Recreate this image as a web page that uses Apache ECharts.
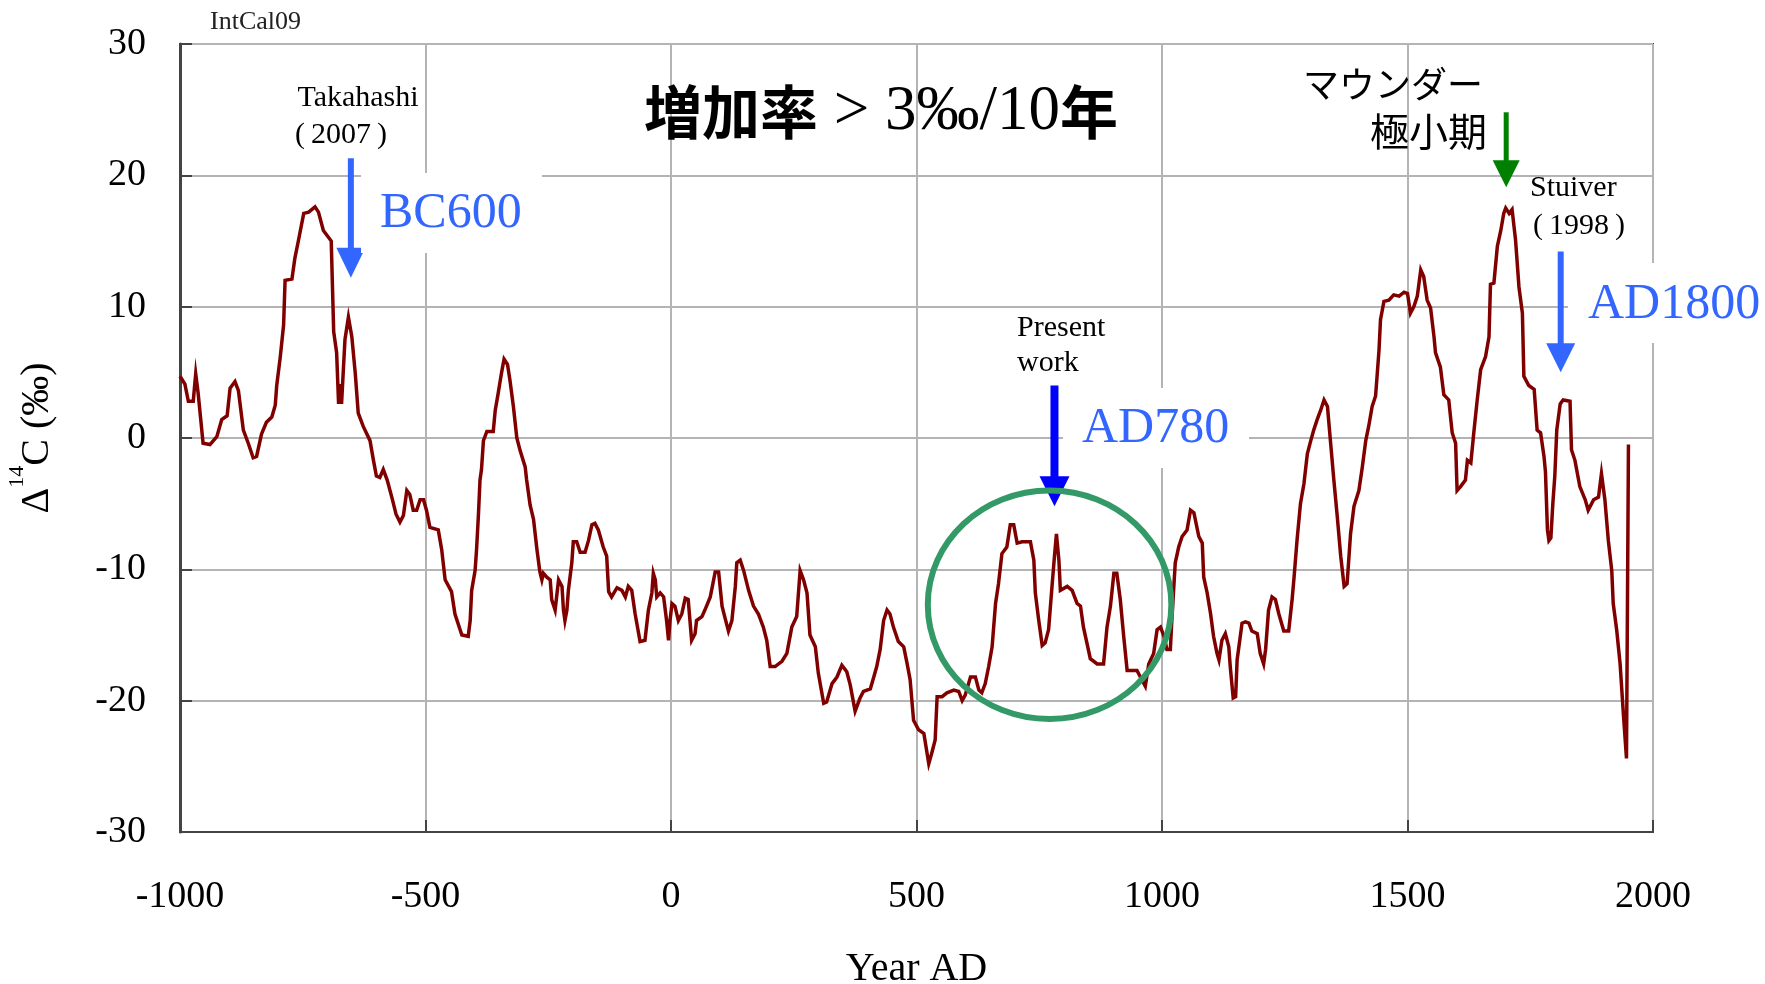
<!DOCTYPE html>
<html>
<head>
<meta charset="utf-8">
<title>Δ14C IntCal09</title>
<script src="https://cdn.jsdelivr.net/npm/echarts@6/dist/echarts.min.js"></script>
<style>
  html, body { margin: 0; padding: 0; background: #ffffff; }
  #main { width: 1765px; height: 984px; }
</style>
</head>
<body>
<div id="main"></div>
<script>
// Calendar year (AD, negative = BC) of each IntCal09 reading
const years = [
  -1000, -990, -983, -973, -968, -963, -953, -939, -925, -915, -904, -898, -888, -881, -871, -861,
  -851, -844, -834, -824, -813, -806, -803, -796, -789, -786, -772, -766, -759, -748, -738, -725,
  -718, -708, -692, -687, -681, -677, -673, -671, -664, -657, -650, -643, -637, -627, -613, -606,
  -600, -593, -586, -578, -568, -560, -552, -545, -538, -532, -525, -518, -511, -504, -498, -491,
  -474, -467, -460, -447, -440, -426, -413, -409, -406, -399, -396, -392, -389, -386, -382, -375,
  -362, -358, -352, -345, -340, -333, -328, -321, -314, -307, -297, -294, -287, -280, -273, -267,
  -263, -260, -253, -246, -243, -236, -229, -222, -219, -216, -212, -209, -202, -199, -192, -185,
  -175, -168, -161, -155, -148, -138, -131, -127, -121, -110, -100, -93, -87, -80, -73, -63,
  -53, -46, -39, -36, -32, -29, -22, -15, -9, -5, -2, 2, 8, 15, 22, 29,
  35, 42, 49, 52, 63, 69, 80, 90, 97, 104, 110, 117, 124, 131, 134, 141,
  148, 158, 168, 178, 188, 195, 202, 212, 226, 236, 246, 256, 263, 270, 277, 283,
  294, 300, 311, 317, 328, 338, 348, 358, 365, 375, 385, 392, 406, 413, 419, 426,
  433, 440, 446, 453, 463, 474, 481, 487, 494, 504, 515, 525, 531, 538, 542, 552,
  562, 576, 586, 593, 599, 610, 620, 627, 633, 640, 647, 654, 661, 667, 674, 684,
  691, 698, 705, 715, 732, 739, 742, 749, 756, 762, 769, 776, 781, 785, 790, 793,
  807, 817, 827, 834, 840, 847, 854, 868, 881, 888, 895, 902, 908, 915, 922, 929,
  939, 949, 956, 966, 973, 983, 990, 997, 1004, 1010, 1017, 1020, 1027, 1034, 1041, 1051,
  1058, 1065, 1075, 1082, 1085, 1092, 1099, 1105, 1112, 1116, 1122, 1129, 1136, 1139, 1145, 1150,
  1153, 1163, 1170, 1177, 1183, 1194, 1200, 1207, 1211, 1217, 1224, 1231, 1238, 1248, 1258, 1265,
  1269, 1275, 1282, 1289, 1296, 1303, 1309, 1316, 1323, 1330, 1337, 1343, 1350, 1357, 1364, 1371,
  1377, 1384, 1391, 1401, 1408, 1415, 1421, 1428, 1435, 1438, 1442, 1445, 1452, 1462, 1472, 1483,
  1493, 1500, 1506, 1513, 1520, 1527, 1533, 1540, 1547, 1554, 1557, 1567, 1574, 1584, 1591, 1598,
  1601, 1608, 1618, 1622, 1629, 1635, 1642, 1649, 1659, 1666, 1669, 1676, 1683, 1690, 1696, 1700,
  1707, 1713, 1720, 1727, 1734, 1737, 1747, 1758, 1764, 1771, 1778, 1781, 1785, 1788, 1792, 1796,
  1800, 1804, 1811, 1817, 1831, 1834, 1841, 1851, 1862, 1868, 1879, 1889, 1895, 1902, 1909, 1916,
  1919, 1926, 1933, 1940, 1946, 1950, 1950
];

// Δ14C in per mil for each year above
const delta14C = [
  4.7, 4.1, 2.8, 2.8, 4.9, 3.4, -0.4, -0.5, 0.1, 1.4, 1.7, 3.8, 4.3, 3.6, 0.6, -0.4,
  -1.5, -1.4, 0.3, 1.2, 1.6, 2.5, 4.0, 6.1, 8.6, 12.0, 12.1, 13.7, 15.0, 17.1, 17.2, 17.6,
  17.2, 15.8, 15.0, 8.1, 6.5, 2.6, 4.1, 2.6, 7.5, 9.2, 7.7, 4.9, 1.9, 0.9, -0.2, -1.7,
  -2.9, -3.0, -2.4, -3.2, -4.6, -5.8, -6.4, -5.9, -4.0, -4.3, -5.5, -5.5, -4.7, -4.7, -5.5, -6.8,
  -7.0, -8.5, -10.8, -11.7, -13.4, -15.0, -15.1, -13.9, -11.6, -10.1, -8.5, -5.7, -3.2, -2.4, -0.2, 0.5,
  0.5, 2.1, 3.4, 5.0, 6.0, 5.6, 4.4, 2.4, 0.0, -1.0, -2.2, -3.2, -5.1, -6.2, -8.5, -10.2,
  -10.8, -10.3, -10.6, -10.8, -12.3, -13.1, -10.8, -11.3, -13.1, -13.9, -13.1, -11.6, -9.5, -7.9, -7.9, -8.7,
  -8.7, -7.8, -6.6, -6.5, -7.0, -8.3, -9.0, -11.7, -12.1, -11.4, -11.6, -12.1, -11.3, -11.6, -13.4, -15.5,
  -15.4, -13.1, -11.8, -10.3, -10.8, -12.1, -11.8, -12.1, -13.9, -15.4, -13.9, -12.6, -12.8, -13.9, -13.4, -12.2,
  -12.3, -15.4, -14.9, -13.9, -13.6, -13.1, -12.1, -10.2, -10.2, -12.8, -13.7, -14.7, -13.9, -11.3, -9.5, -9.3,
  -10.1, -11.6, -12.8, -13.4, -14.4, -15.4, -17.4, -17.4, -17.0, -16.4, -14.4, -13.6, -10.1, -10.8, -11.8, -15.0,
  -15.9, -17.9, -20.2, -20.1, -18.7, -18.2, -17.3, -17.8, -18.8, -20.8, -19.8, -19.3, -19.1, -18.2, -17.4, -16.1,
  -13.9, -13.1, -13.4, -14.4, -15.5, -15.9, -17.2, -18.4, -21.5, -22.2, -22.5, -24.8, -24.0, -23.0, -19.7, -19.7,
  -19.4, -19.2, -19.3, -20.0, -19.6, -18.2, -18.2, -19.2, -19.4, -18.7, -17.4, -15.9, -12.6, -11.1, -8.8, -8.3,
  -6.6, -6.6, -8.0, -7.9, -7.9, -9.3, -11.8, -13.9, -15.8, -15.6, -14.6, -11.3, -9.0, -7.3, -9.3, -11.6,
  -11.3, -11.6, -12.6, -12.8, -14.4, -15.6, -16.8, -17.2, -17.2, -14.4, -12.8, -10.3, -10.3, -12.3, -15.1, -17.7,
  -17.7, -17.7, -18.2, -18.9, -17.2, -16.4, -14.6, -14.4, -15.1, -16.1, -16.1, -13.9, -9.5, -8.3, -7.5, -7.0,
  -5.5, -5.7, -7.5, -8.0, -10.6, -11.8, -13.4, -15.1, -16.4, -16.9, -15.4, -14.9, -15.9, -17.4, -19.8, -19.7,
  -16.9, -14.1, -14.0, -14.1, -14.7, -14.9, -16.4, -17.2, -16.1, -13.1, -12.1, -12.3, -13.4, -14.7, -14.7, -12.3,
  -10.6, -7.8, -5.0, -3.5, -1.2, -0.2, 0.6, 1.4, 2.1, 2.9, 2.4, -0.2, -3.2, -6.0, -9.0, -11.3,
  -11.1, -7.3, -5.2, -4.0, -2.2, -0.2, 0.9, 2.4, 3.2, 4.7, 6.7, 9.0, 10.4, 10.5, 10.9, 10.8,
  11.1, 11.0, 9.5, 10.0, 10.8, 12.8, 12.3, 10.5, 9.9, 7.7, 6.5, 5.4, 3.3, 2.9, 0.4, -0.4,
  -4.0, -3.7, -3.2, -1.7, -1.9, 0.4, 2.9, 5.2, 6.2, 7.7, 11.7, 11.8, 14.6, 15.8, 17.1, 17.5,
  17.1, 17.4, 15.1, 11.5, 9.5, 4.7, 4.0, 3.7, 0.6, 0.4, -1.4, -2.6, -7.0, -7.8, -7.6, -5.0,
  -2.9, 0.6, 2.6, 2.9, 2.8, -0.9, -1.7, -3.7, -4.7, -5.5, -4.7, -4.5, -2.7, -4.7, -7.8, -10.1,
  -12.6, -14.6, -17.2, -21.2, -24.4, -24.4, -0.5
];

// Axis ranges and steps
const xRange = [-1000, 2000];
const xStep = 500;
const yRange = [-30, 30];
const yStep = 10;

// Text of the annotations
const titleParts = ['増加率', ' > 3‰/10', '年'];
const sourceLabel = 'IntCal09';
const takahashiLines = ['Takahashi', '(\u20092007\u2009)'];
const presentLines = ['Present', 'work'];
const maunderLines = ['マウンダー', '極小期'];
const stuiverLines = ['Stuiver', '(\u20091998\u2009)'];
const eventLabels = ['BC600', 'AD780', 'AD1800'];

// Arrows pointing at the events, in data units: [year, from value, to value]
const arrowBC600 = [-652, 21.3, 12.2];
const arrowAD780 = [781, 4.0, -5.2];
const arrowMaunder = [1701, 24.8, 19.1];
const arrowAD1800 = [1812, 14.2, 5.0];
// Ring around the AD780 event: centre [year, value] and half-extents
const ringCentre = [771, -12.7];
const ringHalf = [248, 8.7];

const SERIF = '"Liberation Serif", "Times New Roman", serif';
const CJK = '"Noto Sans CJK JP", "Noto Sans CJK SC", sans-serif';
const EVENT_BLUE = '#3366ff';

const chart = echarts.init(document.getElementById('main'), null, { renderer: 'canvas' });

chart.setOption({
  animation: false,
  backgroundColor: '#ffffff',
  grid: {
    left: 180, right: 112, top: 44, bottom: 152,
    outerBoundsMode: 'none',
    containLabel: false,
    show: true, borderColor: '#444444', borderWidth: 2, backgroundColor: 'transparent'
  },
  xAxis: {
    type: 'value',
    min: xRange[0], max: xRange[1], interval: xStep,
    name: 'Year AD',
    nameLocation: 'middle',
    nameGap: 117,
    nameTextStyle: { fontFamily: SERIF, fontSize: 40, color: '#000000' },
    axisLine: { show: true, onZero: false, lineStyle: { color: '#444444', width: 2 } },
    axisTick: { show: true, inside: true, length: 12, lineStyle: { color: '#444444', width: 2 } },
    axisLabel: { fontFamily: SERIF, fontSize: 38, color: '#000000', margin: 46, formatter: v => String(v) },
    splitLine: { show: true, lineStyle: { color: '#b4b4b4', width: 2 } }
  },
  yAxis: {
    type: 'value',
    min: yRange[0], max: yRange[1], interval: yStep,
    name: '{d|Δ}{s|14}{d|C (‰)}',
    nameLocation: 'middle',
    nameRotate: 90,
    nameGap: 112,
    nameTextStyle: {
      color: '#000000',
      rich: {
        d: { fontFamily: SERIF, fontSize: 40, lineHeight: 62, color: '#000000' },
        s: { fontFamily: SERIF, fontSize: 22, lineHeight: 22, verticalAlign: 'top', color: '#000000' }
      }
    },
    axisLine: { show: true, onZero: false, lineStyle: { color: '#444444', width: 3 } },
    axisTick: { show: true, inside: true, length: 12, lineStyle: { color: '#444444', width: 2 } },
    axisLabel: { fontFamily: SERIF, fontSize: 38, color: '#000000', margin: 34, formatter: v => String(v) },
    splitLine: { show: true, lineStyle: { color: '#b4b4b4', width: 2 } }
  },
  series: [{
    type: 'line',
    data: years.map((y, i) => [y, delta14C[i]]),
    showSymbol: false,
    symbol: 'none',
    clip: true,
    lineStyle: { color: '#800000', width: 3.5, join: 'miter' },
    z: 3
  }]
});

function px(x, y) {
  return chart.convertToPixel({ gridIndex: 0 }, [x, y]);
}

function arrow(spec, color, shaft, headW, headH) {
  const a = px(spec[0], spec[1]);
  const b = px(spec[0], spec[2]);
  return {
    type: 'group', z: 20,
    children: [
      { type: 'rect', shape: { x: a[0] - shaft / 2, y: a[1], width: shaft, height: b[1] - a[1] - headH + 1 },
        style: { fill: color } },
      { type: 'polygon', shape: { points: [[a[0] - headW / 2, b[1] - headH], [a[0] + headW / 2, b[1] - headH], [a[0], b[1]]] },
        style: { fill: color } }
    ]
  };
}

function label(text, x, y, font, fill, align) {
  return {
    type: 'text', x: x, y: y, z: 21,
    style: { text: text, font: font, fill: fill, align: align || 'left', verticalAlign: 'middle' }
  };
}

function whiteBox(x, y, w, h) {
  return { type: 'rect', z: 15, shape: { x: x, y: y, width: w, height: h }, style: { fill: '#ffffff' } };
}

function drawAnnotations() {
  const c = px(ringCentre[0], ringCentre[1]);
  const e = px(ringCentre[0] + ringHalf[0], ringCentre[1] + ringHalf[1]);
  const small = '30px ' + SERIF;
  const big = '50px ' + SERIF;

  const elements = [
    // source label above the frame
    label(sourceLabel, 210, 22, '26px ' + SERIF, '#222222'),
    // headline
    {
      type: 'text', x: 881, y: 112, z: 21,
      style: {
        text: '{a|' + titleParts[0] + '}{b|' + titleParts[1] + '}{a|' + titleParts[2] + '}',
        align: 'center', verticalAlign: 'middle',
        rich: {
          a: { fontFamily: CJK, fontWeight: 'bold', fontSize: 58, fill: '#000000' },
          b: { fontFamily: SERIF, fontSize: 63, fill: '#000000' }
        }
      }
    },
    // BC600 event
    whiteBox(361, 173, 181, 80),
    label(takahashiLines[0], 358, 98, small, '#000000', 'center'),
    label(takahashiLines[1], 341, 135, small, '#000000', 'center'),
    arrow(arrowBC600, EVENT_BLUE, 6, 29, 30),
    label(eventLabels[0], 380, 214, big, EVENT_BLUE),
    // AD780 event
    whiteBox(1063, 388, 186, 80),
    label(presentLines[0], 1017, 328, small, '#000000'),
    label(presentLines[1], 1017, 363, small, '#000000'),
    arrow(arrowAD780, '#0000ff', 8, 30, 30),
    label(eventLabels[1], 1082, 429, big, EVENT_BLUE),
    {
      type: 'ellipse', z: 18,
      shape: { cx: c[0], cy: c[1], rx: e[0] - c[0], ry: c[1] - e[1] },
      style: { fill: null, stroke: '#339966', lineWidth: 6 }
    },
    // Maunder minimum
    label(maunderLines[0], 1483, 84, '36px ' + CJK, '#000000', 'right'),
    label(maunderLines[1], 1487, 131, '39px ' + CJK, '#000000', 'right'),
    arrow(arrowMaunder, '#008000', 5, 27, 27),
    // AD1800 event
    whiteBox(1568, 263, 197, 80),
    label(stuiverLines[0], 1530, 188, small, '#000000'),
    label(stuiverLines[1], 1533, 226, small, '#000000'),
    arrow(arrowAD1800, EVENT_BLUE, 6, 29, 29),
    label(eventLabels[2], 1588, 305, big, EVENT_BLUE)
  ];
  chart.setOption({ graphic: { elements: elements } });
}

drawAnnotations();
</script>
</body>
</html>
